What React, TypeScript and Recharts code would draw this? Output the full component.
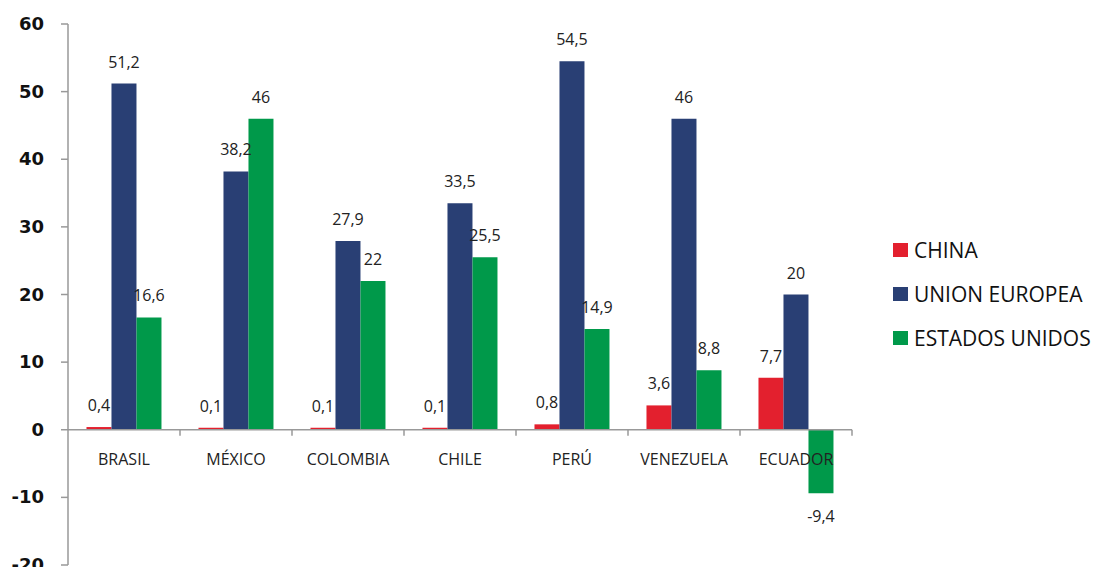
import React from 'react';
import { BarChart, Bar, XAxis, YAxis, LabelList, ReferenceLine } from 'recharts';

const categories = ['BRASIL', 'MÉXICO', 'COLOMBIA', 'CHILE', 'PERÚ', 'VENEZUELA', 'ECUADOR'];
const china = [0.4, 0.1, 0.1, 0.1, 0.8, 3.6, 7.7];
const unionEuropea = [51.2, 38.2, 27.9, 33.5, 54.5, 46, 20];
const estadosUnidos = [16.6, 46, 22, 25.5, 14.9, 8.8, -9.4];
const yTicks = [-20, -10, 0, 10, 20, 30, 40, 50, 60];

const series = [
  { key: 'china', name: 'CHINA', color: '#e3202e' },
  { key: 'ue', name: 'UNION EUROPEA', color: '#293f74' },
  { key: 'eeuu', name: 'ESTADOS UNIDOS', color: '#00994a' },
];

const data = categories.map((name, i) => ({
  name,
  china: china[i],
  ue: unionEuropea[i],
  eeuu: estadosUnidos[i],
}));

const W = 1101;
const H = 575;
const X_H = 7;
const M = { top: 24, right: 249, left: 8, bottom: 3 };
const Y_W = 60;
const plotLeft = M.left + Y_W;
const plotW = W - M.right - plotLeft;
const plotH = H - M.top - M.bottom - X_H;
const zeroY = M.top + (plotH * 60) / 80;
const band = plotW / categories.length;
const FONT = '"Open Sans", sans-serif';

const fmt = (v: number) => String(v).replace('.', ',');

function CatTick(props: any) {
  const { x, payload } = props;
  return (
    <g>
      <line x1={x + band / 2} x2={x + band / 2} y1={zeroY} y2={zeroY + 6} stroke="#999" strokeWidth={1.5} />
      <text x={x} y={zeroY + 35} textAnchor="middle" fontSize={16} fill="#222" fontFamily={FONT}>
        {payload.value}
      </text>
    </g>
  );
}

function YTick(props: any) {
  const { y, payload } = props;
  return (
    <text
      x={plotLeft - 24}
      y={y + 6}
      textAnchor="end"
      fontSize={18}
      fontWeight="bold"
      fill="#111"
      fontFamily='"DejaVu Sans", sans-serif'
    >
      {payload.value}
    </text>
  );
}

function ValueLabel(props: any) {
  const { x, y, width, height, value } = props;
  const neg = value < 0;
  const cx = x + width / 2;
  const top = Math.min(y, y + height);
  const bottom = Math.max(y, y + height);
  return (
    <text
      x={cx}
      y={neg ? bottom + 29 : top - 16}
      textAnchor="middle"
      fontSize={16}
      fill="#222"
      fontFamily={FONT}
    >
      {fmt(value)}
    </text>
  );
}

function LegendBox() {
  return (
    <div style={{ position: 'absolute', left: 893, top: 228, fontFamily: FONT }}>
      {series.map((s) => (
        <div key={s.key} style={{ display: 'flex', alignItems: 'center', height: 44 }}>
          <span style={{ width: 15, height: 14, background: s.color, marginRight: 6, flex: 'none' }} />
          <span style={{ fontSize: 21, color: '#111', whiteSpace: 'nowrap' }}>{s.name}</span>
        </div>
      ))}
    </div>
  );
}

export default function App() {
  return (
    <div style={{ margin: -8, width: W, height: H, background: '#fff', position: 'relative', overflow: 'hidden' }}>
      <BarChart
        width={W}
        height={H}
        data={data}
        margin={M}
        barCategoryGap="16.5%"
        barGap={0}
      >
        <XAxis dataKey="name" height={X_H} axisLine={false} tickLine={false} tick={<CatTick />} interval={0} />
        <YAxis
          width={Y_W}
          domain={[-20, 60]}
          ticks={yTicks}
          interval={0}
          axisLine={{ stroke: '#999', strokeWidth: 1.5 }}
          tickLine={{ stroke: '#999', strokeWidth: 1.5 }}
          tickSize={7}
          tick={<YTick />}
        />
        {series.map((s) => (
          <Bar key={s.key} dataKey={s.key} name={s.name} fill={s.color} minPointSize={2} isAnimationActive={false}>
            <LabelList dataKey={s.key} content={<ValueLabel />} />
          </Bar>
        ))}
        <ReferenceLine y={0} stroke="#999" strokeWidth={1.5} />
      </BarChart>
      <LegendBox />
    </div>
  );
}
